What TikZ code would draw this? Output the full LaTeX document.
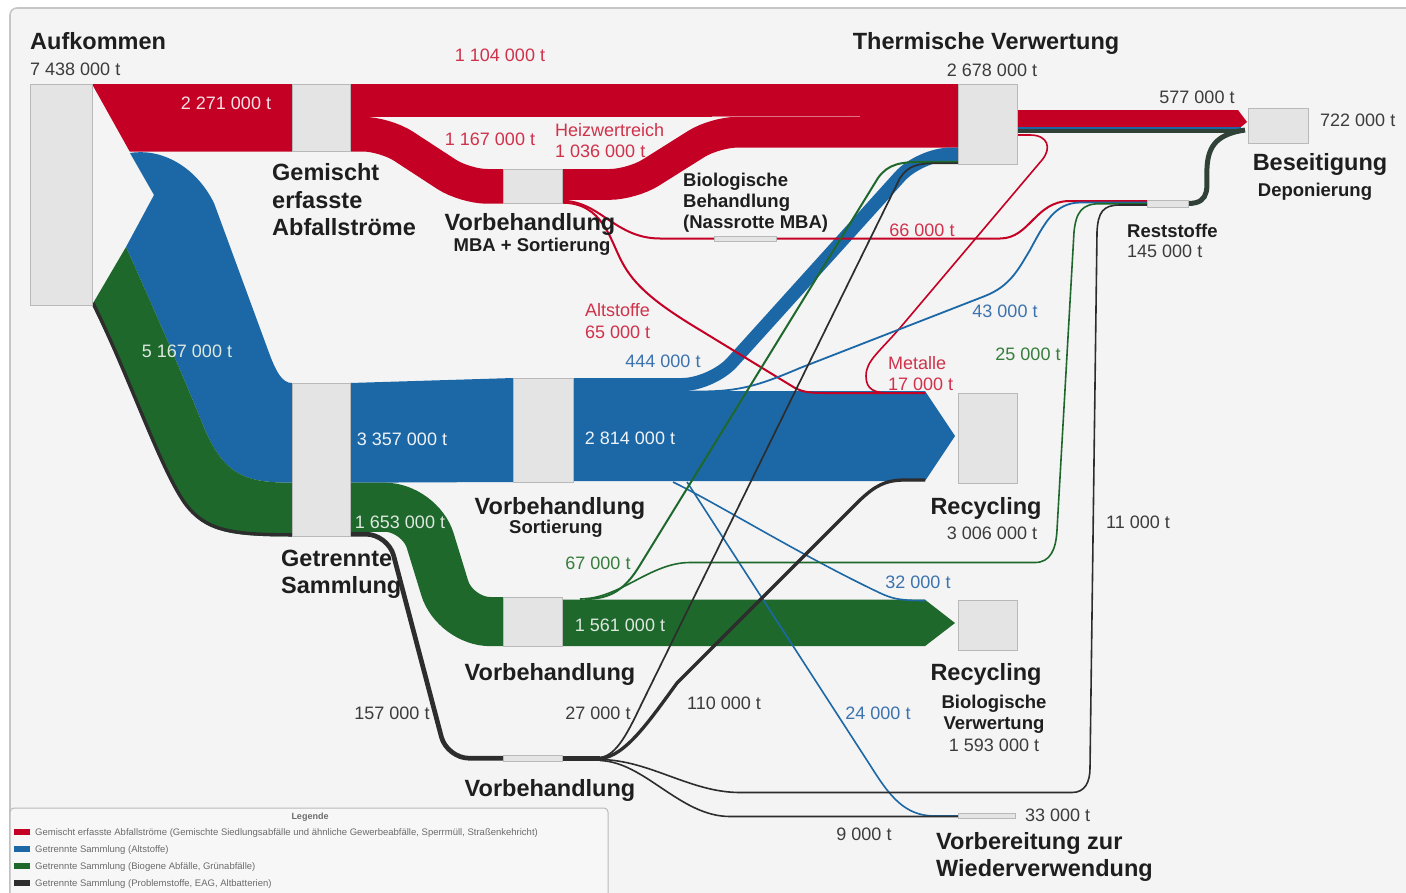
\documentclass[tikz,border=0pt]{standalone}
\usepackage{fontspec}
\setmainfont{Liberation Sans}

\definecolor{flowred}{RGB}{196,0,36}
\definecolor{flowblue}{RGB}{28,104,166}
\definecolor{flowgreen}{RGB}{30,104,44}
\definecolor{flowblack}{RGB}{45,45,45}
\definecolor{restband}{RGB}{48,66,56}
\definecolor{boxfill}{RGB}{228,228,228}
\definecolor{boxline}{RGB}{185,185,185}
\definecolor{bg}{RGB}{244,244,244}
\definecolor{txtdark}{RGB}{30,30,30}
\definecolor{txtgray}{RGB}{60,60,60}
\definecolor{txtred}{RGB}{208,50,75}
\definecolor{txtblue}{RGB}{60,115,175}
\definecolor{txtgreen}{RGB}{55,125,60}

\begin{document}
\begin{tikzpicture}[x=1pt, y=-1pt,
    stock/.style = {draw=boxline, fill=boxfill, line width=0.8pt, inner sep=0pt, outer sep=0pt, anchor=north west},
    titel/.style = {font=\fontsize{23.5}{26}\selectfont\bfseries, text=txtdark, inner sep=0pt, anchor=base, yshift=-8.4pt},
    unter/.style = {font=\fontsize{18.5}{21}\selectfont\bfseries, text=txtdark, inner sep=0pt, anchor=base, yshift=-6.6pt},
    wert/.style = {font=\fontsize{18}{20}\selectfont, text=txtgray, inner sep=0pt, anchor=base, yshift=-6.4pt},
    faden/.style = {line width=#1, line cap=butt},
    legtext/.style = {font=\fontsize{9.5}{11}\selectfont, text=gray!85!black, inner sep=0pt, anchor=base west, yshift=-3.4pt},
]
\useasboundingbox (0,0) rectangle (1406,892);
\clip (0,0) rectangle (1406,892);

% Hintergrund
\fill[white] (0,0) rectangle (1406,892);
\draw[draw=gray!45, fill=bg, line width=1.6pt, rounded corners=7] (10,8) rectangle (1440,930);

% Aufkommen -> Gemischt / Getrennt
\fill[flowred] (92,84) -- (292,84) -- (292,151.5) -- (129.7,151.5) -- cycle;
\fill[flowblue] (130,153) .. controls (160,148) and (195,165) .. (214,203) -- (268,350)
    .. controls (276,372) and (282,383) .. (292,383) -- (292,482.7)
    .. controls (245,482.7) and (225,475) .. (205,430) .. controls (185,380) and (150,300) .. (126,247)
    -- (154,195) -- cycle;
\fill[flowgreen] (126,247) .. controls (150,300) and (185,380) .. (205,430)
    .. controls (225,475) and (245,482.7) .. (292,482.7) -- (292,536.5)
    .. controls (230,536.5) and (205,532) .. (185,505) .. controls (160,470) and (130,380) .. (92,305) -- cycle;
\draw[flowblack, faden=3.4] (93,303) .. controls (130,378) and (160,468) .. (185,503.3)
    .. controls (205,530.3) and (230,534.8) .. (292,534.8);

% Gemischt erfasste Abfallstroeme
\fill[flowred] (350,84) rectangle (958,116.8);
\draw[flowred, faden=34.7, rounded corners=22] (350,134.15) -- (385,134.15) -- (465,186.35) -- (503,186.35);
\draw[flowred, faden=30.8, rounded corners=22] (562,184.4) -- (632,184.4) -- (715,132.2) -- (958,132.2);
\draw[white, opacity=0.45, line width=0.8pt] (712,116.8) -- (860,116.8);

% Getrennte Sammlung
\fill[flowblue] (350,383) -- (513,378) -- (513,482) -- (350,482.7) -- cycle;
\draw[flowblue, faden=13.2, rounded corners=30] (573,384.6) -- (712,384.6) -- (920,154.2) -- (958,154.2);
\fill[flowblue] (573,391) -- (925,391) -- (955,436) -- (925,481) -- (573,481) -- cycle;
\draw[flowgreen, faden=49.1, rounded corners=35] (350,507.25) -- (420,507.25) -- (455,621.55) -- (503,621.55);
\fill[flowgreen] (562,599.7) -- (925,599.7) -- (955,623) -- (925,646.1) -- (562,646.1) -- cycle;
\draw[flowblack, faden=4.7, rounded corners=22] (350,534.2) -- (388,534.2) -- (447,758.2) -- (503,758.2);
\fill[flowblack] (562,755.8) rectangle (600,760.8);

% Thermische Verwertung -> Beseitigung
\fill[flowred] (1017,110) -- (1238,110) -- (1247,122) -- (1241,127) -- (1017,127) -- cycle;
\draw[flowblue, faden=2] (1017,128.2) -- (1241,128.2);
\draw[restband, faden=3.5] (1017,131) -- (1239,131);
\draw[restband, faden=5] (1188,203.5) .. controls (1212,203.5) and (1206,185) .. (1207,168)
    .. controls (1208,145) and (1218,134) .. (1245,130);

% duenne Stroeme (rot)
\draw[flowred, faden=2] (562,200.8) .. controls (600,200.8) and (615,238.5) .. (660,238.5) -- (714,238.5);
\draw[flowred, faden=2] (776,238.5) -- (1000,238.5) .. controls (1030,238.5) and (1035,201) .. (1070,201) -- (1147,201);
\draw[flowred, faden=2] (562,202.7) .. controls (603,202.7) and (610,240) .. (622,262)
    .. controls (634,285) and (655,303) .. (700,330) -- (795,388) .. controls (803,392) and (810,393) .. (825,393) -- (925,393);
\draw[flowred, faden=1.6] (1017,135) -- (1030,135) .. controls (1048,135) and (1052,148) .. (1042,160) -- (905,322)
    .. controls (880,352) and (866,360) .. (866,376) .. controls (866,390) and (875,393) .. (890,393) -- (925,393);

% duenne Stroeme (blau)
\draw[flowblue, faden=1.8] (645,391.5) -- (700,391.5) .. controls (740,391.5) and (760,385) .. (800,368) -- (985,296)
    .. controls (1010,286) and (1018,270) .. (1030,250) .. controls (1045,222) and (1055,203) .. (1080,202.5) -- (1147,202.5);
\draw[flowblue, faden=1.6] (673,482) .. controls (720,505) and (800,555) .. (880,593) .. controls (893,599) and (900,600.5) .. (925,600.5);
\draw[flowblue, faden=1.6] (687,482) -- (870,765) .. controls (890,797) and (905,816) .. (935,816) -- (958,816);

% duenne Stroeme (gruen)
\draw[flowgreen, faden=2] (585,599) .. controls (610,599) and (625,590) .. (640,565) -- (878,178)
    .. controls (888,164) and (900,161.8) .. (925,161.8) -- (958,161.8);
\draw[flowgreen, faden=1.6] (580,599) .. controls (620,599) and (650,562.5) .. (690,562.5) -- (1035,562.5)
    .. controls (1050,562.5) and (1056,550) .. (1057,530) -- (1074,232) .. controls (1076,212) and (1082,203.7) .. (1100,203.7) -- (1147,203.7);

% duenne Stroeme (schwarz)
\draw[flowblack, faden=1.7] (600,757.5) .. controls (617,756) and (629,730) .. (642,703) -- (900,178)
    .. controls (908,166) and (917,163.3) .. (935,163.3) -- (958,163.3);
\draw[flowblack, faden=3.3] (600,758.5) .. controls (625,757) and (650,720) .. (677,683) -- (860,500)
    .. controls (875,486) and (885,480) .. (905,480) -- (925,480);
\draw[flowblack, faden=1.6] (600,759.5) .. controls (650,760) and (690,792.5) .. (740,792.5) -- (1072,792.5)
    .. controls (1085,792.5) and (1090,782) .. (1090,768) -- (1097,232) .. controls (1098,212) and (1103,205) .. (1120,205) -- (1147,205);
\draw[flowblack, faden=1.6] (600,760.5) .. controls (645,762) and (680,816.5) .. (730,816.5) -- (958,816.5);

% Knoten
\node[stock, minimum width=62, minimum height=221] (aufkommen) at (30,84) {};
\node[stock, minimum width=58, minimum height=67.5] (gemischt) at (292,84) {};
\node[stock, minimum width=59, minimum height=34.7] (mba) at (503,169) {};
\node[stock, minimum width=62, minimum height=5] (nassrotte) at (714,236) {};
\node[stock, minimum width=59, minimum height=80] (thermisch) at (958,84) {};
\node[stock, minimum width=60, minimum height=35] (beseitigung) at (1248,108) {};
\node[stock, minimum width=41, minimum height=7] (reststoffe) at (1147,200) {};
\node[stock, minimum width=58, minimum height=153.5] (getrennt) at (292,383) {};
\node[stock, minimum width=60, minimum height=104] (sortierung) at (513,378) {};
\node[stock, minimum width=59, minimum height=90] (recycling) at (958,393) {};
\node[stock, minimum width=59, minimum height=49.1] (vorbgruen) at (503,597) {};
\node[stock, minimum width=59, minimum height=50] (recbio) at (958,600) {};
\node[stock, minimum width=59, minimum height=5.5] (vorbschwarz) at (503,755.5) {};
\node[stock, minimum width=57, minimum height=5] (wiederverw) at (958,813.5) {};

% Beschriftungen
\node[titel, anchor=base west] (l-auf) at (30,41) {Aufkommen};
\node[wert, anchor=base west] (w-auf) at (30,69) {7 438 000 t};
\node[wert, text=txtred] (w-direkt) at (500,55) {1 104 000 t};
\node[titel] (l-therm) at (986,41) {Thermische Verwertung};
\node[wert] (w-therm) at (992,70) {2 678 000 t};
\node[wert, text=white!88!flowred] (w-gem) at (226,103) {2 271 000 t};
\node[wert] (w-dep) at (1197,97) {577 000 t};
\node[wert, anchor=base west] (w-bes) at (1320,120) {722 000 t};
\node[wert, text=txtred] (w-mba) at (490,139) {1 167 000 t};
\node[wert, text=txtred, anchor=base west] (l-heiz) at (555,130) {Heizwertreich};
\node[wert, text=txtred, anchor=base west] (w-heiz) at (555,151) {1 036 000 t};
\node[titel, anchor=base west] (l-gem1) at (272,172) {Gemischt};
\node[titel, anchor=base west] (l-gem2) at (272,200) {erfasste};
\node[titel, anchor=base west] (l-gem3) at (272,227) {Abfallströme};
\node[titel] (l-bes) at (1320,162) {Beseitigung};
\node[unter] (l-depo) at (1315,190) {Deponierung};
\node[unter, anchor=base west] (l-bio1) at (683,180) {Biologische};
\node[unter, anchor=base west] (l-bio2) at (683,201) {Behandlung};
\node[unter, anchor=base west] (l-bio3) at (683,222) {(Nassrotte MBA)};
\node[titel] (l-mba) at (530,222) {Vorbehandlung};
\node[unter] (l-mba2) at (532,245) {MBA + Sortierung};
\node[wert, text=txtred] (w-nass) at (922,230) {66 000 t};
\node[unter, anchor=base west] (l-rest) at (1127,231) {Reststoffe};
\node[wert, anchor=base west] (w-rest) at (1127,251) {145 000 t};
\node[wert, text=txtred, anchor=base west] (l-alt) at (585,310) {Altstoffe};
\node[wert, text=txtred, anchor=base west] (w-alt) at (585,332) {65 000 t};
\node[wert, text=txtblue] (w-rest-blau) at (1005,311) {43 000 t};
\node[wert, text=white!85!flowgreen] (w-getr) at (187,351) {5 167 000 t};
\node[wert, text=txtblue] (w-therm-blau) at (663,361) {444 000 t};
\node[wert, text=txtred, anchor=base west] (l-met) at (888,363) {Metalle};
\node[wert, text=txtred, anchor=base west] (w-met) at (888,384) {17 000 t};
\node[wert, text=txtgreen] (w-rest-gruen) at (1028,354) {25 000 t};
\node[wert, text=white!92!flowblue] (w-alts) at (402,439) {3 357 000 t};
\node[wert, text=white!92!flowblue] (w-rec) at (630,438) {2 814 000 t};
\node[titel] (l-sort) at (560,506) {Vorbehandlung};
\node[unter] (l-sort2) at (556,527) {Sortierung};
\node[titel] (l-rec) at (986,506) {Recycling};
\node[wert] (w-rec-sum) at (992,533) {3 006 000 t};
\node[wert, text=white!85!flowgreen] (w-bio) at (400,522) {1 653 000 t};
\node[wert] (w-rest-schwarz) at (1138,522) {11 000 t};
\node[titel, anchor=base west] (l-getr1) at (281,558) {Getrennte};
\node[titel, anchor=base west] (l-getr2) at (281,585) {Sammlung};
\node[wert, text=txtgreen] (w-therm-gruen) at (598,563) {67 000 t};
\node[wert, text=txtblue] (w-recbio-blau) at (918,582) {32 000 t};
\node[wert, text=white!85!flowgreen] (w-recbio) at (620,625) {1 561 000 t};
\node[titel] (l-vgruen) at (550,672) {Vorbehandlung};
\node[titel] (l-recbio) at (986,672) {Recycling};
\node[unter] (l-recbio2) at (994,702) {Biologische};
\node[unter] (l-recbio3) at (994,723) {Verwertung};
\node[wert] (w-recbio-sum) at (994,745) {1 593 000 t};
\node[wert] (w-prob) at (392,713) {157 000 t};
\node[wert] (w-therm-schwarz) at (598,713) {27 000 t};
\node[wert] (w-rec-schwarz) at (724,703) {110 000 t};
\node[wert, text=txtblue] (w-wv-blau) at (878,713) {24 000 t};
\node[titel] (l-vschwarz) at (550,788) {Vorbehandlung};
\node[wert, anchor=base west] (w-wv) at (1025,815) {33 000 t};
\node[wert] (w-wv-schwarz) at (864,834) {9 000 t};
\node[titel, anchor=base west] (l-wv1) at (936,841) {Vorbereitung zur};
\node[titel, anchor=base west] (l-wv2) at (936,868) {Wiederverwendung};

% Legende
\draw[draw=gray!55, fill=white!97!black, line width=1pt, rounded corners=4] (10,808) rectangle (608,910);
\node[font=\fontsize{9}{10}\selectfont\bfseries, text=gray!85!black, inner sep=0pt] (leg-titel) at (310,817) {Legende};
\fill[flowred] (14,829) rectangle (30,835);
\node[legtext] (leg-rot) at (35,832) {Gemischt erfasste Abfallströme (Gemischte Siedlungsabfälle und ähnliche Gewerbeabfälle, Sperrmüll, Straßenkehricht)};
\fill[flowblue] (14,846) rectangle (30,852);
\node[legtext] (leg-blau) at (35,849) {Getrennte Sammlung (Altstoffe)};
\fill[flowgreen] (14,863) rectangle (30,869);
\node[legtext] (leg-gruen) at (35,866) {Getrennte Sammlung (Biogene Abfälle, Grünabfälle)};
\fill[flowblack] (14,880) rectangle (30,886);
\node[legtext] (leg-schwarz) at (35,883) {Getrennte Sammlung (Problemstoffe, EAG, Altbatterien)};
\end{tikzpicture}
\end{document}
